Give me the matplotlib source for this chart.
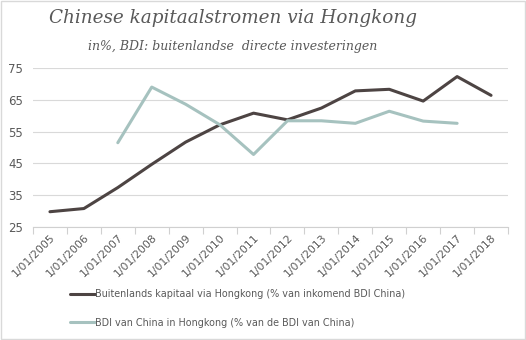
import matplotlib.pyplot as plt
import numpy as np

years = [f"1/01/{y}" for y in range(2005, 2019)]
kapitaal_via_hk = [29.8, 30.8, 37.4, 44.7, 51.7, 57.1, 60.8, 58.7, 62.4, 67.8, 68.3, 64.6, 72.3, 66.4]
bdi_in_hk = [np.nan, np.nan, 51.5, 69.0, 63.6, 57.2, 47.8, 58.4, 58.4, 57.6, 61.4, 58.3, 57.6, np.nan]

label_dark = "Buitenlands kapitaal via Hongkong (% van inkomend BDI China)"
label_light = "BDI van China in Hongkong (% van de BDI van China)"

DARK = "#4d4443"
LIGHT = "#a6c2bf"
TEXT = "#595959"

fig = plt.figure(figsize=(5.26, 3.4), dpi=100)
ax = fig.add_axes([0.0627, 0.3324, 0.9031, 0.4676])

x = np.arange(len(years))
l1, = ax.plot(x, kapitaal_via_hk, color=DARK, lw=2.2, solid_capstyle="round", solid_joinstyle="round")
l2, = ax.plot(x, bdi_in_hk, color=LIGHT, lw=2.2, solid_capstyle="round", solid_joinstyle="round")

ax.set_ylim(25, 75)
ax.set_yticks([25, 35, 45, 55, 65, 75])
ax.set_xlim(-0.5, len(years) - 0.5)
ax.set_xticks(x)
ax.set_xticklabels(years, rotation=45, ha="right", rotation_mode="anchor",
                   fontsize=7.8, color=TEXT)
ax.set_xticks(np.arange(-0.5, len(years)), minor=True)
ax.tick_params(axis="x", which="major", length=0, pad=4)
ax.tick_params(axis="x", which="minor", length=5, color="#d0d0d0", width=0.8)
ax.tick_params(axis="y", length=0, labelsize=8.5, labelcolor=TEXT, pad=7)

ax.grid(axis="y", color="#d9d9d9", lw=0.8)
ax.set_axisbelow(True)
for side in ("top", "right", "left"):
    ax.spines[side].set_visible(False)
ax.spines["bottom"].set_color("#d0d0d0")
ax.spines["bottom"].set_linewidth(0.8)

fig.text(0.093, 0.947, "Chinese kapitaalstromen via Hongkong", fontsize=13.2,
         family="DejaVu Serif", style="italic", color=TEXT, va="center")
fig.text(0.168, 0.862, "in%, BDI: buitenlandse  directe investeringen", fontsize=9,
         family="DejaVu Serif", style="italic", color=TEXT, va="center")

fig.legend([l1, l2], [label_dark, label_light], loc="upper left",
           bbox_to_anchor=(0.125, 0.16), frameon=False, fontsize=6.9,
           labelcolor=TEXT, handlelength=2.6, handletextpad=0.1,
           labelspacing=1.9, borderaxespad=0)

# thin frame around the figure
fig.patches.append(plt.Rectangle((0.002, 0.003), 0.996, 0.994, transform=fig.transFigure,
                                 fill=False, edgecolor="#d9d9d9", lw=1))

fig.savefig("out.png", dpi=100)
